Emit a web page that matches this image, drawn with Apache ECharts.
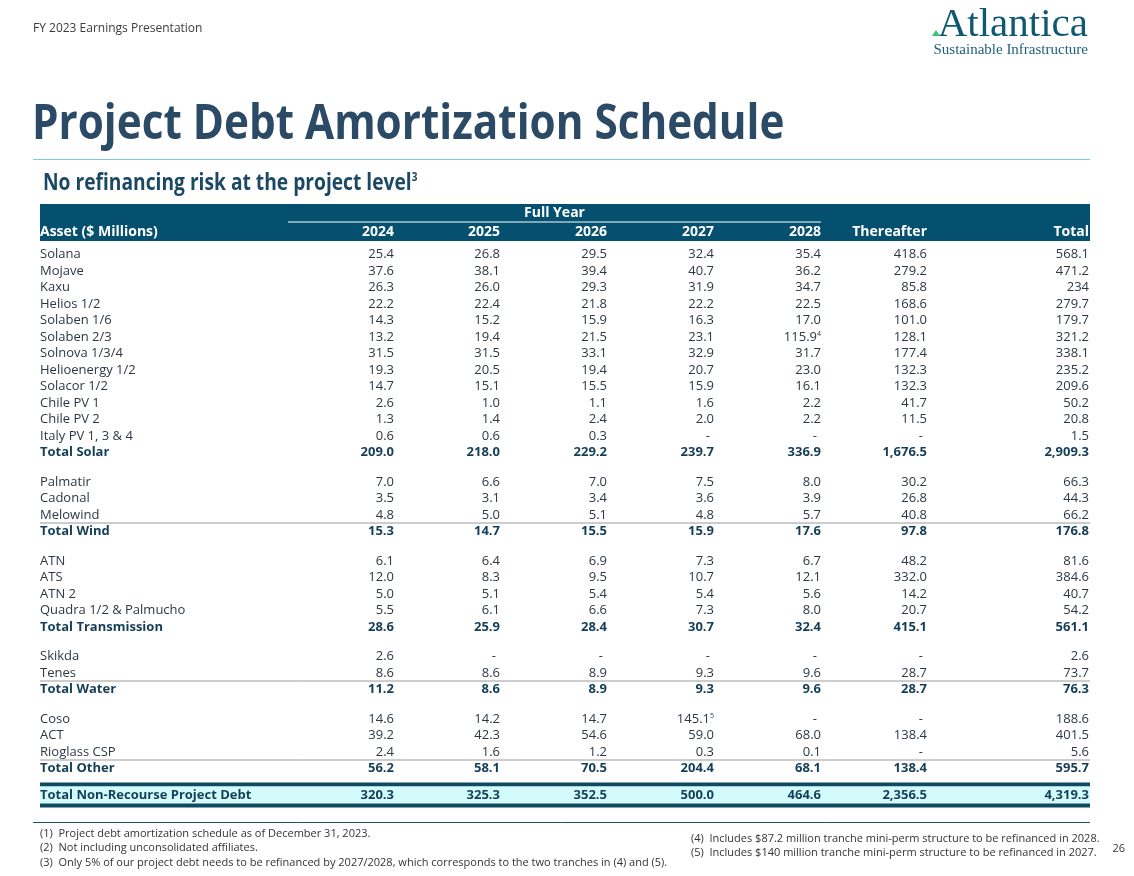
<!DOCTYPE html>
<html>
<head>
<meta charset="utf-8">
<title>Project Debt Amortization Schedule</title>
<script src="https://cdn.jsdelivr.net/npm/echarts@6/dist/echarts.min.js"></script>
<style>
  html, body { margin: 0; padding: 0; background: #fff; }
  #main { width: 1134px; height: 876px; }
</style>
</head>
<body>
<div id="main"></div>
<script>
// column headers
var yearCols = ['2024', '2025', '2026', '2027', '2028'];
var otherCols = ['Thereafter', 'Total'];

// each row: 2024, 2025, 2026, 2027, 2028, Thereafter, Total ("|n" = footnote mark)
var solarAssets = ['Solana', 'Mojave', 'Kaxu', 'Helios 1/2', 'Solaben 1/6', 'Solaben 2/3', 'Solnova 1/3/4',
    'Helioenergy 1/2', 'Solacor 1/2', 'Chile PV 1', 'Chile PV 2', 'Italy PV 1, 3 & 4'];
var solarValues = [
    ['25.4', '26.8', '29.5', '32.4', '35.4', '418.6', '568.1'],
    ['37.6', '38.1', '39.4', '40.7', '36.2', '279.2', '471.2'],
    ['26.3', '26.0', '29.3', '31.9', '34.7', '85.8', '234'],
    ['22.2', '22.4', '21.8', '22.2', '22.5', '168.6', '279.7'],
    ['14.3', '15.2', '15.9', '16.3', '17.0', '101.0', '179.7'],
    ['13.2', '19.4', '21.5', '23.1', '115.9|4', '128.1', '321.2'],
    ['31.5', '31.5', '33.1', '32.9', '31.7', '177.4', '338.1'],
    ['19.3', '20.5', '19.4', '20.7', '23.0', '132.3', '235.2'],
    ['14.7', '15.1', '15.5', '15.9', '16.1', '132.3', '209.6'],
    ['2.6', '1.0', '1.1', '1.6', '2.2', '41.7', '50.2'],
    ['1.3', '1.4', '2.4', '2.0', '2.2', '11.5', '20.8'],
    ['0.6', '0.6', '0.3', '-', '-', '-', '1.5']
];
var solarTotal = ['209.0', '218.0', '229.2', '239.7', '336.9', '1,676.5', '2,909.3'];

var windAssets = ['Palmatir', 'Cadonal', 'Melowind'];
var windValues = [
    ['7.0', '6.6', '7.0', '7.5', '8.0', '30.2', '66.3'],
    ['3.5', '3.1', '3.4', '3.6', '3.9', '26.8', '44.3'],
    ['4.8', '5.0', '5.1', '4.8', '5.7', '40.8', '66.2']
];
var windTotal = ['15.3', '14.7', '15.5', '15.9', '17.6', '97.8', '176.8'];

var transAssets = ['ATN', 'ATS', 'ATN 2', 'Quadra 1/2 & Palmucho'];
var transValues = [
    ['6.1', '6.4', '6.9', '7.3', '6.7', '48.2', '81.6'],
    ['12.0', '8.3', '9.5', '10.7', '12.1', '332.0', '384.6'],
    ['5.0', '5.1', '5.4', '5.4', '5.6', '14.2', '40.7'],
    ['5.5', '6.1', '6.6', '7.3', '8.0', '20.7', '54.2']
];
var transTotal = ['28.6', '25.9', '28.4', '30.7', '32.4', '415.1', '561.1'];

var waterAssets = ['Skikda', 'Tenes'];
var waterValues = [
    ['2.6', '-', '-', '-', '-', '-', '2.6'],
    ['8.6', '8.6', '8.9', '9.3', '9.6', '28.7', '73.7']
];
var waterTotal = ['11.2', '8.6', '8.9', '9.3', '9.6', '28.7', '76.3'];

var otherAssets = ['Coso', 'ACT', 'Rioglass CSP'];
var otherValues = [
    ['14.6', '14.2', '14.7', '145.1|5', '-', '-', '188.6'],
    ['39.2', '42.3', '54.6', '59.0', '68.0', '138.4', '401.5'],
    ['2.4', '1.6', '1.2', '0.3', '0.1', '-', '5.6']
];
var otherTotal = ['56.2', '58.1', '70.5', '204.4', '68.1', '138.4', '595.7'];

var grandTotal = ['320.3', '325.3', '352.5', '500.0', '464.6', '2,356.5', '4,319.3'];

var footnotesLeft = [
    '(1)  Project debt amortization schedule as of December 31, 2023.',
    '(2)  Not including unconsolidated affiliates.',
    '(3)  Only 5% of our project debt needs to be refinanced by 2027/2028, which corresponds to the two tranches in (4) and (5).'
];
var footnotesRight = [
    '(4)  Includes $87.2 million tranche mini-perm structure to be refinanced in 2028.',
    '(5)  Includes $140 million tranche mini-perm structure to be refinanced in 2027.'
];

// layout (grid units = px inside the table grid)
var COL_RIGHT = [354, 460, 567, 674, 781, 887, 1049];
var ROW_H = 16.5, GROUP_GAP = 13, FINAL_GAP = 10.5, FIRST_ROW = 50.5;
var FONT = '"Open Sans", "Noto Sans", sans-serif';
var BODY = '#2c3844', BOLD = '#143e57', NAVY = '#05506f';

var groups = [
    { names: solarAssets, values: solarValues, total: 'Total Solar', totalValues: solarTotal, line: false },
    { names: windAssets, values: windValues, total: 'Total Wind', totalValues: windTotal, line: true },
    { names: transAssets, values: transValues, total: 'Total Transmission', totalValues: transTotal, line: false },
    { names: waterAssets, values: waterValues, total: 'Total Water', totalValues: waterTotal, line: true },
    { names: otherAssets, values: otherValues, total: 'Total Other', totalValues: otherTotal, line: true }
];

var rows = [];
var y = FIRST_ROW;
groups.forEach(function (g, gi) {
    if (gi > 0) y += GROUP_GAP;
    g.names.forEach(function (n, i) {
        rows.push({ label: n, cells: g.values[i], bold: false, line: false, y: y });
        y += ROW_H;
    });
    rows.push({ label: g.total, cells: g.totalValues, bold: true, line: g.line, y: y });
    y += ROW_H;
});
y += FINAL_GAP;
var grandY = y;
rows.push({ label: 'Total Non-Recourse Project Debt', cells: grandTotal, bold: true, line: false, y: grandY });

function cellText(s) {
    var p = s.split('|');
    if (p.length > 1) return '{v|' + p[0] + '}{s|' + p[1] + '}';
    return '{v|' + s + '}';
}

function renderRow(params, api) {
    var r = rows[api.value(0)];
    var c = api.coord([0, r.y]);
    var weight = r.bold ? 'bold' : 'normal';
    var color = r.bold ? BOLD : BODY;
    var children = [];
    if (r.line) {
        var a = api.coord([0, r.y - 8.5]);
        var b = api.coord([1050, r.y - 8.5]);
        children.push({ type: 'line', shape: { x1: a[0], y1: a[1], x2: b[0], y2: b[1] },
            style: { stroke: '#9a9a9a', lineWidth: 1 } });
    }
    children.push({ type: 'text', style: { text: r.label, x: c[0], y: c[1], fill: color,
        font: weight + ' 13px ' + FONT, align: 'left', verticalAlign: 'middle' } });
    r.cells.forEach(function (s, i) {
        var p = api.coord([COL_RIGHT[i], r.y]);
        var isDash = s === '-';
        children.push({ type: 'text', style: {
            text: cellText(s), x: p[0] - (isDash ? 4 : 0), y: p[1], align: 'right', verticalAlign: 'middle',
            rich: {
                v: { fill: color, fontFamily: FONT, fontSize: 13, fontWeight: weight },
                s: { fill: color, fontFamily: FONT, fontSize: 7, verticalAlign: 'top' }
            }
        } });
    });
    return { type: 'group', children: children };
}

// band rects: [y0, y1, colour]
var bands = [
    [0, 37, NAVY],
    [grandY - 13, grandY - 9, '#0f4a62'],
    [grandY - 9, grandY + 8, '#d3fbfb'],
    [grandY + 8, grandY + 12, '#0f4a62']
];

function renderBand(params, api) {
    var b = bands[api.value(0)];
    var p0 = api.coord([0, b[0]]);
    var p1 = api.coord([1050, b[1]]);
    return { type: 'rect', shape: { x: p0[0], y: p0[1], width: p1[0] - p0[0], height: p1[1] - p0[1] },
        style: { fill: b[2] } };
}

function renderHeader(params, api) {
    var children = [];
    var l0 = api.coord([248, 18]), l1 = api.coord([COL_RIGHT[4], 18]);
    children.push({ type: 'line', shape: { x1: l0[0], y1: l0[1], x2: l1[0], y2: l1[1] },
        style: { stroke: '#ffffff', lineWidth: 1 } });
    var fy = api.coord([(248 + COL_RIGHT[4]) / 2, 9]);
    children.push({ type: 'text', style: { text: 'Full Year', x: fy[0], y: fy[1], fill: '#fff',
        font: 'bold 14px ' + FONT, align: 'center', verticalAlign: 'middle' } });
    var a = api.coord([0, 28]);
    children.push({ type: 'text', style: { text: 'Asset ($ Millions)', x: a[0], y: a[1], fill: '#fff',
        font: 'bold 14px ' + FONT, align: 'left', verticalAlign: 'middle' } });
    yearCols.concat(otherCols).forEach(function (h, i) {
        var p = api.coord([COL_RIGHT[i], 28]);
        children.push({ type: 'text', style: { text: h, x: p[0], y: p[1], fill: '#fff',
            font: 'bold 14px ' + FONT, align: 'right', verticalAlign: 'middle' } });
    });
    return { type: 'group', children: children };
}

var chart = echarts.init(document.getElementById('main'), null, { renderer: 'canvas' });

var graphics = [
    { type: 'text', left: 33, top: 23, style: { text: 'FY 2023 Earnings Presentation', fill: '#3a3a3a',
        font: '12px ' + FONT } },
    { type: 'text', right: 46, top: 5, style: { text: 'Atlantica', fill: '#0e5872',
        font: '41px "Liberation Serif", "DejaVu Serif", serif' } },
    { type: 'text', right: 46, top: 43, style: { text: 'Sustainable Infrastructure', fill: '#1e5f78',
        font: '15px "Liberation Serif", "DejaVu Serif", serif' } },
    { type: 'polygon', shape: { points: [[932, 36], [936, 30], [940, 36]] }, style: { fill: '#3cc46e' } },
    { type: 'text', x: 32, y: 125, scaleX: 0.88, style: { text: 'Project Debt Amortization Schedule',
        fill: '#2b4a66', font: 'bold 48px ' + FONT, verticalAlign: 'middle' } },
    { type: 'line', shape: { x1: 33, y1: 159.5, x2: 1090, y2: 159.5 }, style: { stroke: '#7ccbd6', lineWidth: 1 } },
    { type: 'text', x: 43, y: 183, scaleX: 0.835, style: {
        text: '{a|No refinancing risk at the project level}{b|3}', verticalAlign: 'middle',
        rich: {
            a: { fill: '#1b4864', fontFamily: FONT, fontSize: 23, fontWeight: 'bold' },
            b: { fill: '#1b4864', fontFamily: FONT, fontSize: 12, fontWeight: 'bold', verticalAlign: 'top' }
        } } },
    { type: 'line', shape: { x1: 33, y1: 822.5, x2: 1090, y2: 822.5 }, style: { stroke: '#1d4f66', lineWidth: 1 } },
    { type: 'text', right: 9, top: 843, style: { text: '26', fill: '#333', font: '11px ' + FONT } }
];
footnotesLeft.forEach(function (t, i) {
    graphics.push({ type: 'text', left: 40, top: 828 + i * 14.5, style: { text: t, fill: '#333',
        font: '11px ' + FONT } });
});
footnotesRight.forEach(function (t, i) {
    graphics.push({ type: 'text', left: 691, top: 833 + i * 14.5, style: { text: t, fill: '#333',
        font: '11px ' + FONT } });
});

chart.setOption({
    animation: false,
    grid: { left: 40, right: 44, top: 204, bottom: 62 },
    xAxis: { type: 'value', min: 0, max: 1050, show: false },
    yAxis: { type: 'value', min: 0, max: 610, inverse: true, show: false },
    graphic: graphics,
    series: [
        {
            type: 'custom', name: 'bands', z: 1, silent: true,
            renderItem: renderBand,
            data: bands.map(function (b, i) { return [i, b[0]]; })
        },
        {
            type: 'custom', name: 'header', z: 3, silent: true,
            renderItem: renderHeader,
            data: [[0]]
        },
        {
            type: 'custom', name: 'rows', z: 3, silent: true,
            renderItem: renderRow,
            data: rows.map(function (r, i) { return [i, r.y]; })
        }
    ]
});
</script>
</body>
</html>
